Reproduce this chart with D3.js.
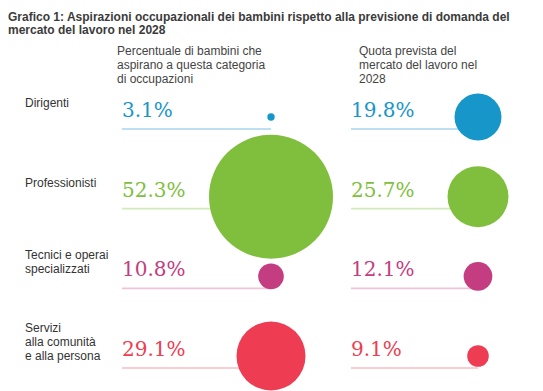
<!DOCTYPE html>
<html>
<head>
<meta charset="utf-8">
<script src="https://cdn.jsdelivr.net/npm/d3@7"></script>
<style>
  html, body { margin: 0; padding: 0; background: #fff; }
  svg { display: block; }
</style>
</head>
<body>
<svg id="chart" width="543" height="391"></svg>
<script>
// ---- data ----
const titleLines = [
  "Grafico 1: Aspirazioni occupazionali dei bambini rispetto alla previsione di domanda del",
  "mercato del lavoro nel 2028"
];
const columnHeaders = [
  ["Percentuale di bambini che", "aspirano a questa categoria", "di occupazioni"],
  ["Quota prevista del", "mercato del lavoro nel", "2028"]
];
const categories = ["Dirigenti", "Professionisti", "Tecnici e operai specializzati", "Servizi alla comunità e alla persona"];
const categoryLabelLines = [
  ["Dirigenti"],
  ["Professionisti"],
  ["Tecnici e operai", "specializzati"],
  ["Servizi", "alla comunità", "e alla persona"]
];
const childrenAspiration = [3.1, 52.3, 10.8, 29.1];
const labourDemand2028 = [19.8, 25.7, 12.1, 9.1];
const colors = ["#1796c9", "#80bf3e", "#c43d80", "#ee3c52"];
const lineColors = ["#a6d6ee", "#d3eabb", "#efc3d8", "#f8bcc4"];

// ---- layout ----
const svg = d3.select("#chart");

const rowY = d3.scalePoint().domain(categories).range([129, 368]);
const cols = ["kids", "market"];
const colText = d3.scalePoint().domain(cols).range([122, 351]);
const colCircle = d3.scalePoint().domain(cols).range([271, 478]);
const headerX = d3.scalePoint().domain(cols).range([117, 359]);
const r = d3.scaleLinear()
  .domain([0, d3.max(childrenAspiration.concat(labourDemand2028))])
  .range([0, 62]);
const fmt = v => d3.format(".1f")(v) + "%";
const sans = "'Liberation Sans', Arial, sans-serif";

// title
svg.append("g").selectAll("text").data(titleLines).join("text")
  .attr("x", 8).attr("y", (d, i) => 21 + i * 13)
  .attr("font-family", sans)
  .attr("font-weight", "bold").attr("font-size", 12)
  .attr("fill", "#3b3b3b")
  .text(d => d);

// column headers
cols.forEach((c, ci) => {
  svg.append("g").selectAll("text").data(columnHeaders[ci]).join("text")
    .attr("x", headerX(c)).attr("y", (d, i) => 55 + i * 14)
    .attr("font-family", sans)
    .attr("font-size", 12).attr("fill", "#444")
    .text(d => d);
});

// category labels
const lineH = 14;
categories.forEach((cat, i) => {
  const lines = categoryLabelLines[i];
  const center = rowY(cat) - 22;
  svg.append("g").selectAll("text").data(lines).join("text")
    .attr("x", 25)
    .attr("y", (d, k) => center + (k - (lines.length - 1) / 2) * lineH)
    .attr("font-family", sans)
    .attr("font-size", 12).attr("fill", "#333")
    .text(d => d);
});

// rows: rules, circles, values
const series = { kids: childrenAspiration, market: labourDemand2028 };
cols.forEach(c => {
  const vals = series[c];
  const g = svg.append("g");
  g.selectAll("line").data(categories).join("line")
    .attr("x1", colText(c)).attr("x2", colCircle(c))
    .attr("y1", d => rowY(d)).attr("y2", d => rowY(d))
    .attr("stroke", (d, i) => lineColors[i]).attr("stroke-width", 1.6);
  g.selectAll("circle").data(categories).join("circle")
    .attr("cx", colCircle(c))
    .attr("cy", d => rowY(d) - 12)
    .attr("r", (d, i) => r(vals[i]))
    .attr("fill", (d, i) => colors[i]);
  g.selectAll("text").data(categories).join("text")
    .attr("x", colText(c))
    .attr("y", d => rowY(d) - 12)
    .attr("font-family", "'DejaVu Serif', Georgia, serif")
    .attr("font-size", 20)
    .attr("fill", (d, i) => colors[i])
    .text((d, i) => fmt(vals[i]));
});
</script>
</body>
</html>
